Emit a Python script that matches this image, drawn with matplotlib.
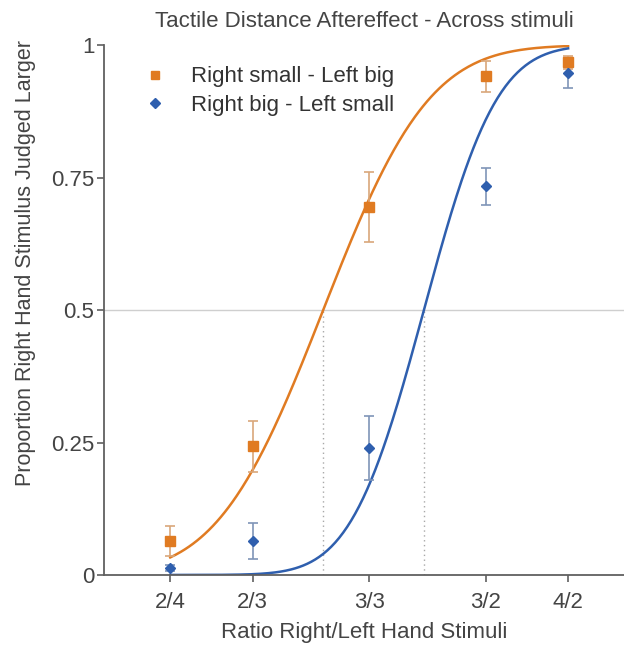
import math
import numpy as np
import matplotlib
matplotlib.use("Agg")
import matplotlib.pyplot as plt

plt.rcParams['font.family'] = ['Liberation Sans', 'DejaVu Sans']

# stimulus ratios (right/left)
ratio_labels = ["2/4", "2/3", "3/3", "3/2", "4/2"]
ratios = [2/4, 2/3, 3/3, 3/2, 4/2]

# observed proportions + errors
small_big = [0.064, 0.243, 0.694, 0.941, 0.968]
small_big_err = [0.028, 0.048, 0.066, 0.030, 0.012]
big_small = [0.013, 0.064, 0.240, 0.734, 0.947]
big_small_err = [0.006, 0.034, 0.060, 0.035, 0.028]

# fitted cumulative normal in log-ratio: PSE (ratio) and sigma (log units)
fit_small_big = (0.852, 0.29)
fit_big_small = (1.21, 0.20)

orange = "#E07B22"
blue = "#2F5FAE"


def psy(r, pse, sd):
    z = (np.log(r) - np.log(pse)) / sd
    return np.array([0.5 * (1 + math.erf(v / math.sqrt(2))) for v in z])


fig = plt.figure(figsize=(6.24, 6.46), dpi=100)
ax = fig.add_axes([0.1667, 0.11, 0.8333, 0.82])
ax.set_xscale('log')

xs = np.exp(np.linspace(np.log(ratios[0]), np.log(ratios[-1]), 300))

ax.axhline(0.5, color="#cfcfcf", lw=1, zorder=0)
for pse, _ in (fit_small_big, fit_big_small):
    ax.plot([pse, pse], [0, 0.5], color="#a8a8a8", lw=1, ls=(0, (1, 2.5)), zorder=0)

ax.plot(xs, psy(xs, *fit_small_big), color=orange, lw=1.8, zorder=2)
ax.plot(xs, psy(xs, *fit_big_small), color=blue, lw=1.8, zorder=2)

ax.errorbar(ratios, small_big, yerr=small_big_err, fmt='s', color=orange, ms=6.5,
            ecolor="#d9a77a", elinewidth=1.2, capsize=3.5, capthick=1.2,
            label="Right small - Left big", zorder=3)
ax.errorbar(ratios, big_small, yerr=big_small_err, fmt='D', color=blue, ms=5.5,
            ecolor="#7f95b8", elinewidth=1.2, capsize=3.5, capthick=1.2,
            label="Right big - Left small", zorder=3)

ax.set_xlim(0.397, 2.43)
ax.set_ylim(0, 1)
ax.set_xticks(ratios)
ax.set_xticklabels(ratio_labels)
ax.minorticks_off()
ax.set_yticks([0, 0.25, 0.5, 0.75, 1])
ax.set_yticklabels(["0", "0.25", "0.5", "0.75", "1"])

for s in ("top", "right"):
    ax.spines[s].set_visible(False)
for s in ("left", "bottom"):
    ax.spines[s].set_color("#606060")
    ax.spines[s].set_linewidth(1.3)
ax.tick_params(colors="#606060", labelcolor="#444444", labelsize=16, length=5,
               width=1.2, pad=2)
ax.tick_params(axis='x', pad=7.5)

ax.set_xlabel("Ratio Right/Left Hand Stimuli", fontsize=16, color="#444444", labelpad=6)
ax.set_ylabel("Proportion Right Hand Stimulus Judged Larger", fontsize=15.5,
              color="#444444")
ax.yaxis.set_label_coords(-0.13, 0.589)
ax.set_title("Tactile Distance Aftereffect - Across stimuli", fontsize=16,
             color="#444444", pad=13)

handles, labels = ax.get_legend_handles_labels()
handles = [h[0] for h in handles]
ax.legend(handles, labels, loc="upper left", bbox_to_anchor=(0.077, 0.96), frameon=False,
          fontsize=16, handletextpad=1.1, labelspacing=0.35, handlelength=1.0,
          borderpad=0, borderaxespad=0, markerscale=0.85, labelcolor="#333333")

fig.savefig("out.png", dpi=100)
